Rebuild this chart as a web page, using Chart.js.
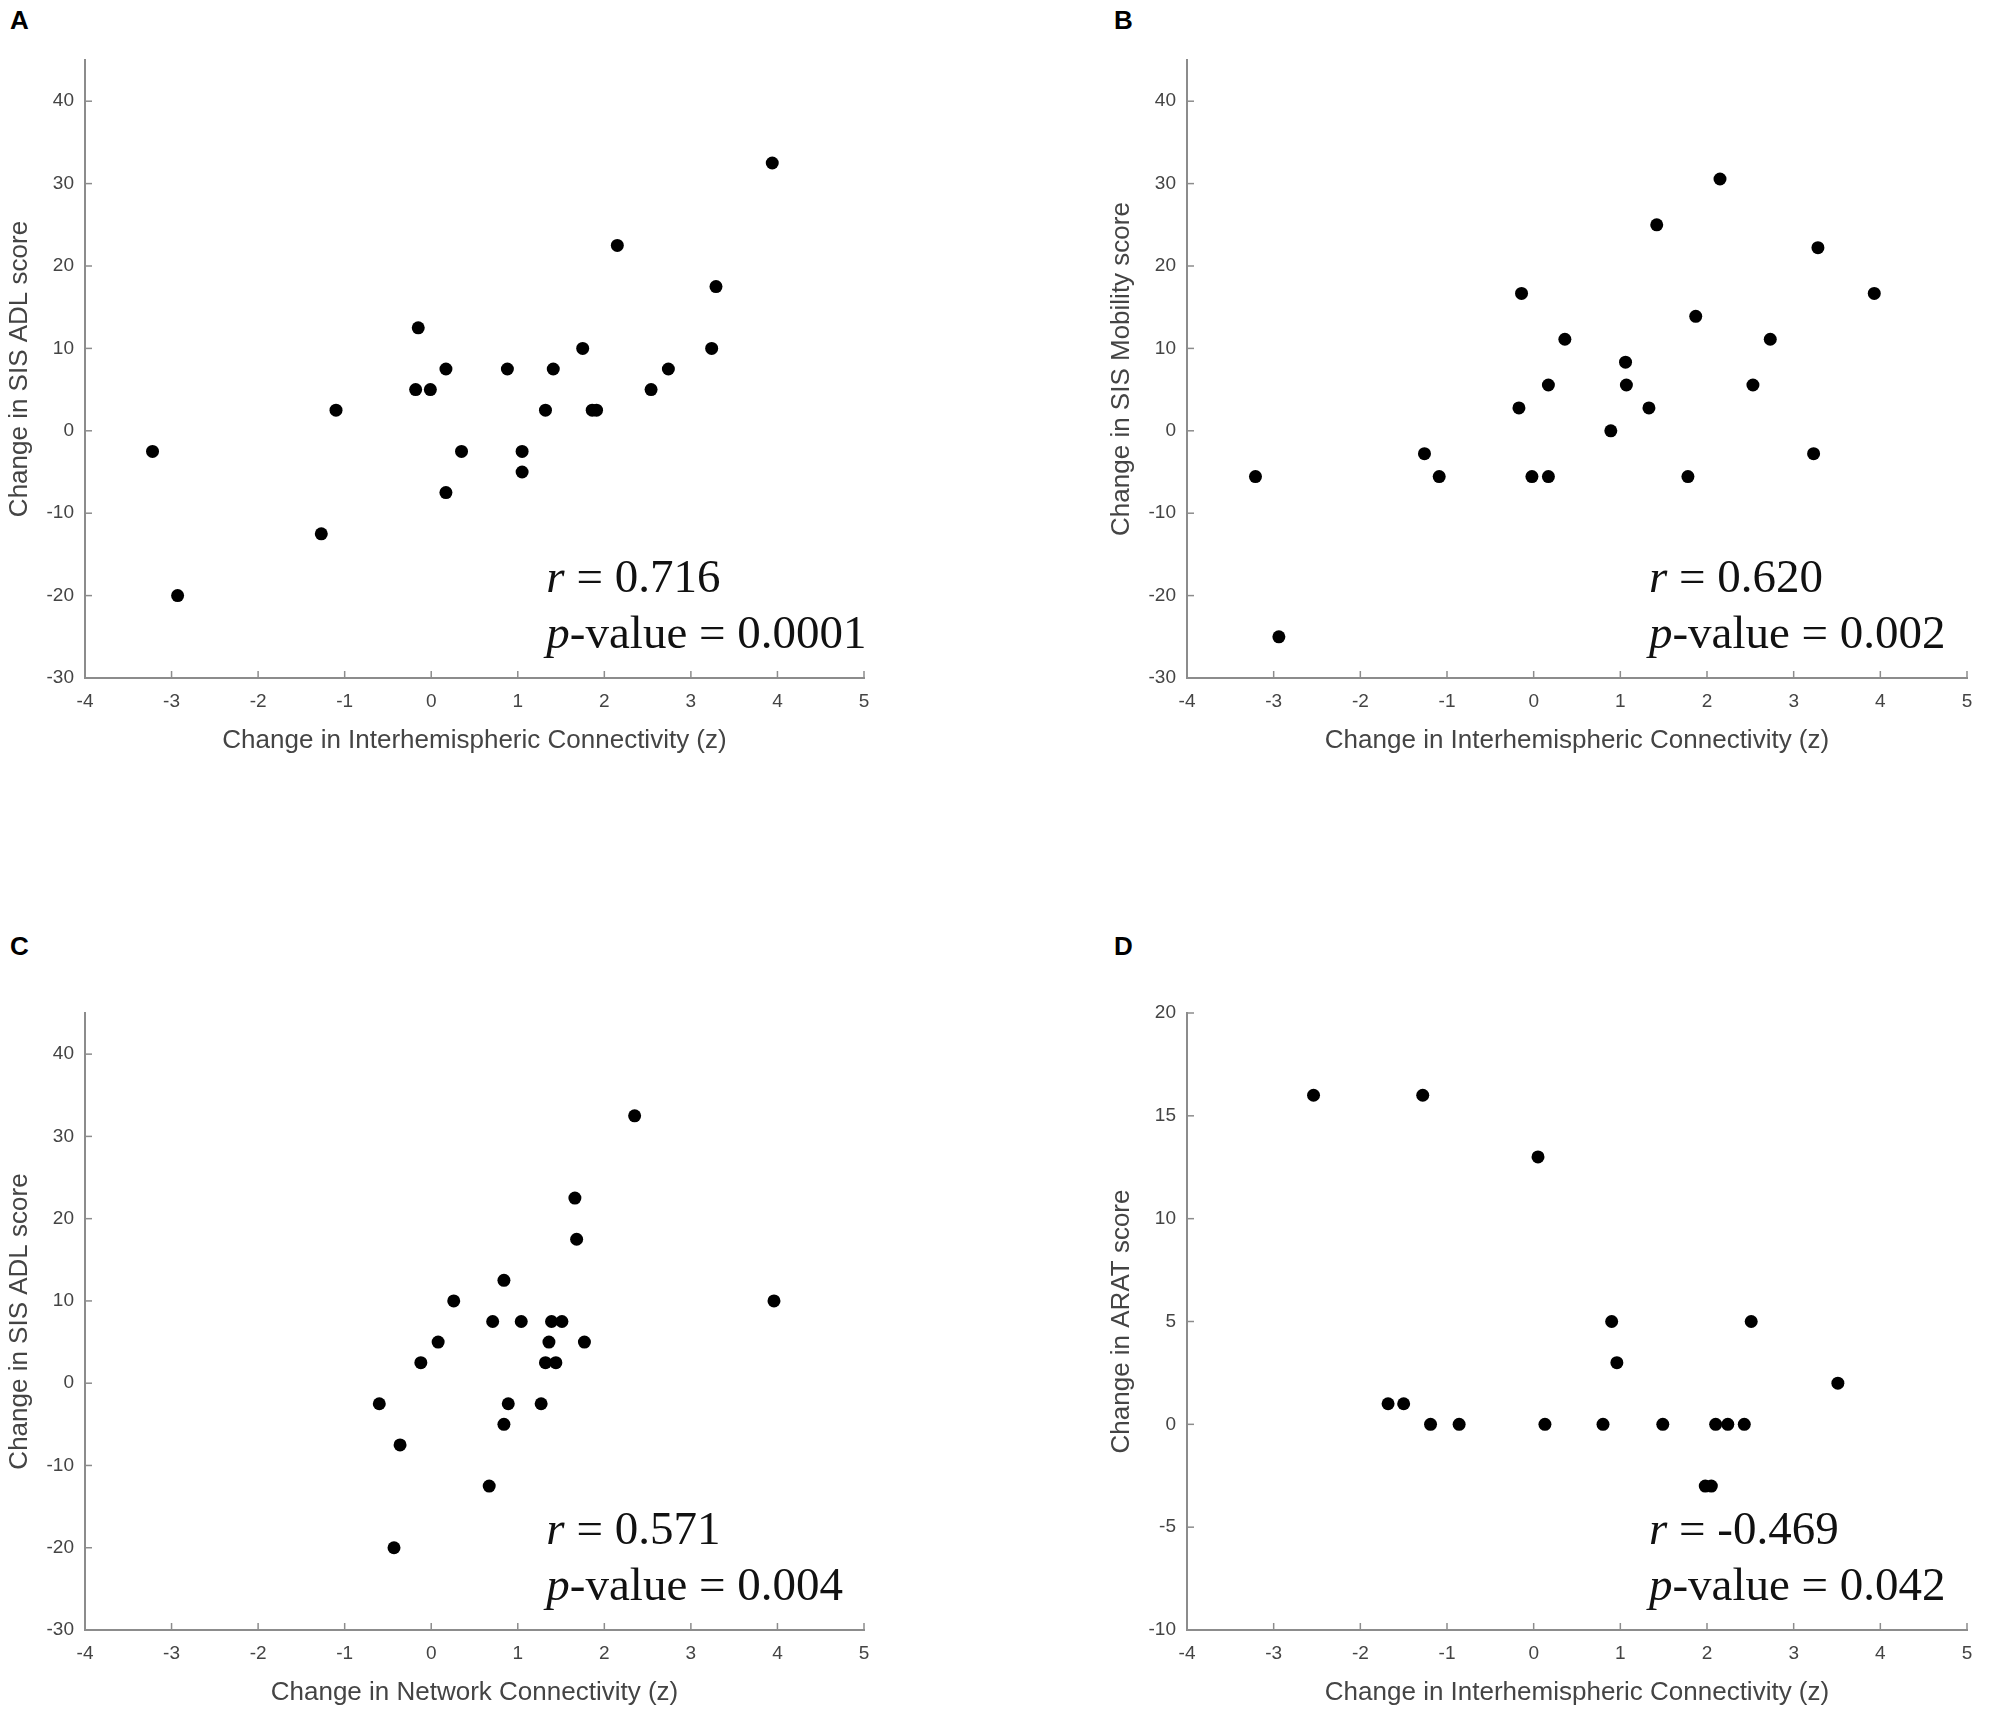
<!DOCTYPE html>
<html>
<head>
<meta charset="utf-8">
<title>Connectivity vs. outcome change</title>
<script src="https://cdn.jsdelivr.net/npm/chart.js@4.4.1/dist/chart.umd.min.js"></script>
<style>
  body{margin:0;background:#fff;width:1991px;height:1729px;position:relative;overflow:hidden;
       font-family:"Liberation Sans",Arial,sans-serif;}
  .panel-letter{position:absolute;font-weight:bold;font-size:26px;line-height:26px;color:#000;}
  canvas{position:absolute;}
</style>
</head>
<body>
<div class="panel-letter" style="left:10px;top:7px">A</div>
<div class="panel-letter" style="left:1114px;top:7px">B</div>
<div class="panel-letter" style="left:10px;top:933px">C</div>
<div class="panel-letter" style="left:1114px;top:933px">D</div>

<canvas id="chart-a" width="900" height="776" style="left:0;top:0"></canvas>
<canvas id="chart-b" width="889" height="776" style="left:1102px;top:0"></canvas>
<canvas id="chart-c" width="900" height="779" style="left:0;top:950px"></canvas>
<canvas id="chart-d" width="889" height="779" style="left:1102px;top:950px"></canvas>

<script>
/* ── data ───────────────────────────── */
var xTicks    = [-4,-3,-2,-1,0,1,2,3,4,5];
var sisTicks  = [-30,-20,-10,0,10,20,30,40];
var aratTicks = [-10,-5,0,5,10,15,20];

// A: interhemispheric vs SIS ADL
var interA = [-3.22,-2.93,-1.27,-1.10,-0.15,-0.18,-0.01,0.17,0.17,0.35,0.88,1.05,1.05,1.32,1.41,1.75,1.86,1.91,2.15,2.54,2.74,3.24,3.29,3.94];
var adlA   = [-2.5,-20,-12.5,2.5,12.5,5,5,7.5,-7.5,-2.5,7.5,-2.5,-5,2.5,7.5,10,2.5,2.5,22.5,5,7.5,10,17.5,32.5];

// B: interhemispheric vs SIS Mobility
var interB = [-3.21,-2.94,-1.26,-1.09,-0.17,-0.14,-0.02,0.17,0.17,0.36,0.89,1.06,1.07,1.33,1.42,1.78,1.87,2.15,2.53,2.73,3.23,3.28,3.93];
var mobB   = [-5.56,-25,-2.78,-5.56,2.78,16.67,-5.56,5.56,-5.56,11.11,0,8.33,5.56,2.78,25,-5.56,13.89,30.56,5.56,11.11,-2.78,22.22,16.67];

// C: network vs SIS ADL
var netC = [-0.60,-0.36,-0.43,-0.12,0.08,0.26,0.67,0.71,0.84,0.84,0.89,1.04,1.27,1.32,1.36,1.39,1.44,1.51,1.66,1.68,1.77,2.35,3.96];
var adlC = [-2.5,-7.5,-20,2.5,5,10,-12.5,7.5,12.5,-5,-2.5,7.5,-2.5,2.5,5,7.5,2.5,7.5,22.5,17.5,5,32.5,10];

// D: interhemispheric vs ARAT
var interD = [-2.54,-1.68,-1.50,-1.28,-1.19,-0.86,0.05,0.13,0.80,0.90,0.96,1.49,1.98,2.05,2.10,2.24,2.43,2.51,3.51];
var aratD  = [16,1,1,16,0,0,13,0,0,5,3,0,-3,-3,0,0,0,5,2];

var rText = ['0.716','0.620','0.571','-0.469'];
var pText = ['0.0001','0.002','0.004','0.042'];

var xTitleInter = 'Change in Interhemispheric Connectivity (z)';
var xTitleNet   = 'Change in Network Connectivity (z)';

/* ── helpers ────────────────────────── */
var AXIS = '#8c8c8c', TXT = '#444';

function pts(xs, ys){
  return xs.map(function(x,i){return {x:x,y:ys[i]};});
}

// MATLAB-ish inward ticks + r / p annotation
var matlabAxes = {
  id:'matlabAxes',
  afterDraw:function(chart, args, opt){
    var ctx = chart.ctx, sx = chart.scales.x, sy = chart.scales.y, a = chart.chartArea;
    ctx.save();
    ctx.strokeStyle = AXIS; ctx.lineWidth = 1.5;
    sx.ticks.forEach(function(t){
      var px = sx.getPixelForValue(t.value);
      ctx.beginPath(); ctx.moveTo(px,a.bottom); ctx.lineTo(px,a.bottom-7); ctx.stroke();
    });
    sy.ticks.forEach(function(t){
      var py = sy.getPixelForValue(t.value);
      ctx.beginPath(); ctx.moveTo(a.left,py); ctx.lineTo(a.left+7,py); ctx.stroke();
    });

    var x0 = sx.getPixelForValue(1.33);
    ctx.fillStyle = '#111';
    ctx.textBaseline = 'alphabetic';
    drawStat(ctx, x0, a.bottom-86, 'r', ' = '+opt.r);
    drawStat(ctx, x0, a.bottom-30, 'p', '-value = '+opt.p);
    ctx.restore();
  }
};

function drawStat(ctx, x, y, it, rest){
  ctx.font = 'italic 47px "Liberation Serif"';
  ctx.fillText(it, x, y);
  var w = ctx.measureText(it).width;
  ctx.font = '47px "Liberation Serif"';
  ctx.fillText(rest, x+w, y);
}

function buildPanel(id, data, yMin, yMax, yTicks, yTitle, xTitle, stat, pad, xH){
  var ctx = document.getElementById(id);
  return new Chart(ctx, {
    type:'scatter',
    data:{datasets:[{
      data:data,
      backgroundColor:'#000',
      borderWidth:0,
      pointRadius:6.5,
      pointHoverRadius:6.5
    }]},
    options:{
      responsive:false,
      animation:false,
      devicePixelRatio:1,
      layout:{padding:pad},
      plugins:{
        legend:{display:false},
        tooltip:{enabled:false},
        matlabAxes:stat
      },
      scales:{
        x:{
          type:'linear',min:-4,max:5,
          afterBuildTicks:function(s){s.ticks = xTicks.map(function(v){return {value:v};});},
          afterFit:function(s){s.height = xH;},
          grid:{drawOnChartArea:false,drawTicks:false},
          border:{color:AXIS,width:2},
          ticks:{color:TXT,font:{family:'"Liberation Sans"',size:19},padding:12,maxRotation:0,autoSkip:false},
          title:{display:true,text:xTitle,color:TXT,font:{family:'"Liberation Sans"',size:26},padding:{top:0,bottom:xH-78}}
        },
        y:{
          type:'linear',min:yMin,max:yMax,
          afterBuildTicks:function(s){s.ticks = yTicks.map(function(v){return {value:v};});},
          afterFit:function(s){s.width = 85;},
          grid:{drawOnChartArea:false,drawTicks:false},
          border:{color:AXIS,width:2},
          ticks:{color:TXT,font:{family:'"Liberation Sans"',size:19},padding:11,autoSkip:false},
          title:{display:true,text:yTitle,color:TXT,font:{family:'"Liberation Sans"',size:26},padding:{top:4,bottom:0}}
        }
      }
    },
    plugins:[matlabAxes]
  });
}

buildPanel('chart-a', pts(interA,adlA), -30, 45, sisTicks, 'Change in SIS ADL score', xTitleInter,
  {r:rText[0],p:pText[0]}, {top:60,right:36,left:0,bottom:0}, 98);
buildPanel('chart-b', pts(interB,mobB), -30, 45, sisTicks, 'Change in SIS Mobility score', xTitleInter,
  {r:rText[1],p:pText[1]}, {top:60,right:24,left:0,bottom:0}, 98);
buildPanel('chart-c', pts(netC,adlC), -30, 45, sisTicks, 'Change in SIS ADL score', xTitleNet,
  {r:rText[2],p:pText[2]}, {top:63,right:36,left:0,bottom:0}, 99);
buildPanel('chart-d', pts(interD,aratD), -10, 20, aratTicks, 'Change in ARAT score', xTitleInter,
  {r:rText[3],p:pText[3]}, {top:63,right:24,left:0,bottom:0}, 99);
</script>
</body>
</html>
